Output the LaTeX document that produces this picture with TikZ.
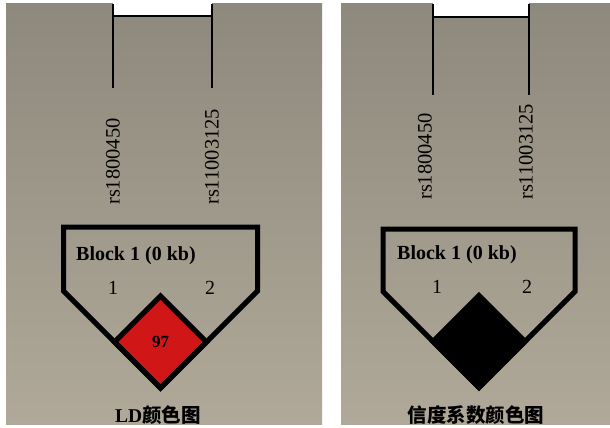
\documentclass[tikz,border=0pt]{standalone}
\usepackage{fontspec}
\setmainfont{Liberation Serif}
\newfontfamily\cjk{Noto Sans CJK SC}
\definecolor{panelTop}{RGB}{142,137,125}
\definecolor{panelBot}{RGB}{176,169,153}
\definecolor{ldred}{RGB}{208,22,22}
\tikzset{
  panel/.style={top color=panelTop, bottom color=panelBot, draw=none},
  thinline/.style={draw=black, line width=2pt},
  thick outline/.style={draw=black, line width=5pt, line join=miter},
  snp/.style={rotate=90, anchor=west, inner sep=0pt, font=\fontsize{20.5}{22}\selectfont},
  blocklabel/.style={anchor=base west, inner sep=0pt, font=\fontsize{20}{22}\selectfont\bfseries},
  idx/.style={anchor=base, inner sep=0pt, font=\fontsize{20}{22}\selectfont},
  caption/.style={anchor=center, inner sep=0pt, font=\fontsize{19.5}{22}\selectfont\bfseries},
}
\begin{document}
\begin{tikzpicture}[x=1pt,y=-1pt]
\useasboundingbox (0,0) rectangle (610,428);
\fill[white] (0,0) rectangle (610,428);
% panels
\shade[panel] (6,4) rectangle (322,424);
\shade[panel] (341,4) rectangle (610,424);

% ---------- left panel ----------
\fill[white] (113,0) rectangle (212,16);
\coordinate (l1t) at (113,4);
\coordinate (l1b) at (113,88);
\coordinate (l2t) at (212,4);
\coordinate (l2b) at (212,88);
\draw[thinline] (l1t) -- (l1b);
\draw[thinline] (l2t) -- (l2b);
\draw[thinline] (113,16) -- (212,16);
\node[snp] (ls1) at (113,205) {rs1800450};
\node[snp] (ls2) at (212,205) {rs11003125};
% diamond
\fill[ldred] (160.5,296) -- (206.5,342) -- (160.5,388) -- (114.5,342) -- cycle;
\draw[thick outline] (160.5,296) -- (206.5,342) -- (160.5,388) -- (114.5,342) -- cycle;
% pentagon
\draw[thick outline] (63.5,227) -- (257.5,227) -- (257.5,291) -- (160.5,388) -- (63.5,291) -- cycle;
\node[blocklabel] (lb) at (76,260) {Block 1 (0 kb)};
\node[idx] (li1) at (113,294) {1};
\node[idx] (li2) at (210,294) {2};
\node[inner sep=0pt, font=\fontsize{17}{20}\selectfont\bfseries] (l97) at (160.5,342) {97};
\node[caption] (lcap) at (158,415) {LD{\cjk\bfseries 颜色图}};

% ---------- right panel ----------
\fill[white] (433,0) rectangle (529,17);
\coordinate (r1t) at (433,4);
\coordinate (r1b) at (433,95);
\coordinate (r2t) at (529,4);
\coordinate (r2b) at (529,95);
\draw[thinline] (r1t) -- (r1b);
\draw[thinline] (r2t) -- (r2b);
\draw[thinline] (433,17) -- (529,17);
\node[snp] (rs1) at (425,200) {rs1800450};
\node[snp] (rs2) at (526,200) {rs11003125};
% diamond
\fill[black] (479,295.5) -- (525,341.5) -- (479,387.5) -- (433,341.5) -- cycle;
\draw[thick outline] (479,295.5) -- (525,341.5) -- (479,387.5) -- (433,341.5) -- cycle;
% pentagon
\draw[thick outline] (383,229) -- (575,229) -- (575,291.5) -- (479,387.5) -- (383,291.5) -- cycle;
\node[blocklabel] (rb) at (397,259) {Block 1 (0 kb)};
\node[idx] (ri1) at (437,293) {1};
\node[idx] (ri2) at (527,293) {2};
\node[caption] (rcap) at (476,415) {{\cjk\bfseries 信度系数颜色图}};
\end{tikzpicture}
\end{document}
